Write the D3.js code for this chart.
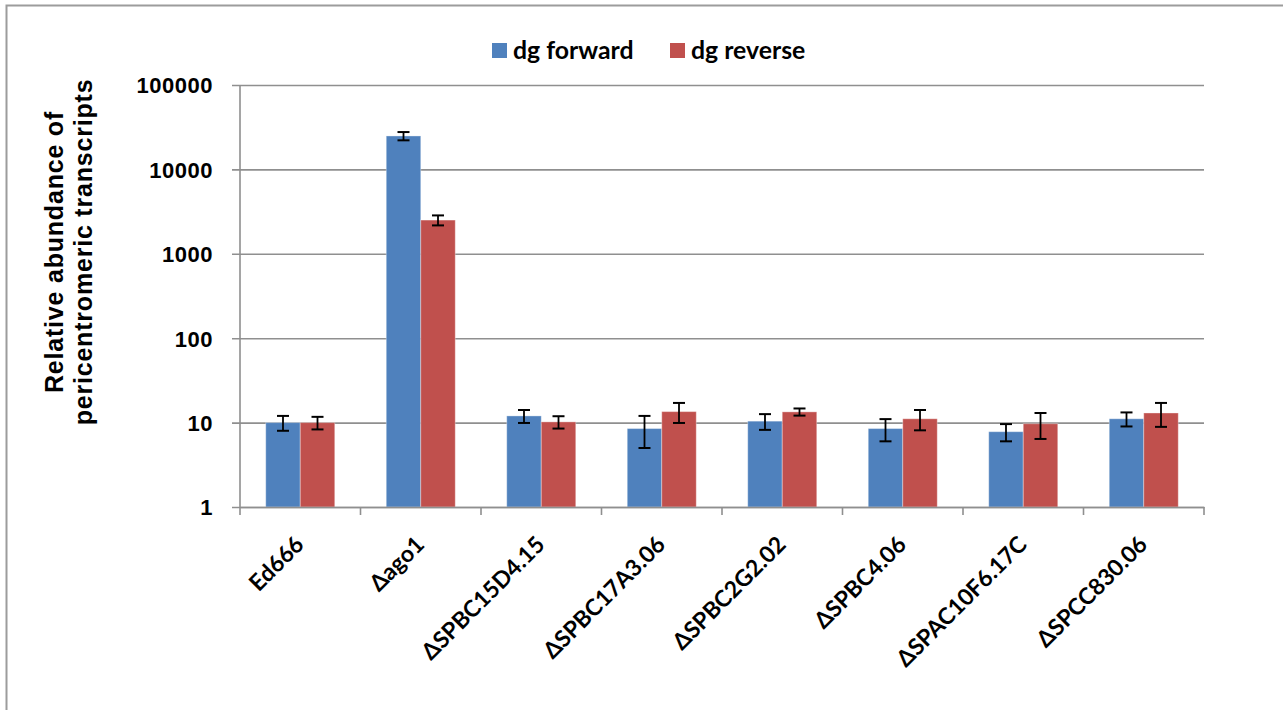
<!DOCTYPE html>
<html>
<head>
<meta charset="utf-8">
<script src="https://cdn.jsdelivr.net/npm/d3@7"></script>
<style>
  html, body { margin: 0; padding: 0; background: #fff; }
  svg { display: block; }
</style>
</head>
<body>
<svg id="chart" width="1283" height="710"></svg>
<script>
// Strains on the x axis
const categories = ["Ed666", "Δago1", "ΔSPBC15D4.15", "ΔSPBC17A3.06", "ΔSPBC2G2.02", "ΔSPBC4.06", "ΔSPAC10F6.17C", "ΔSPCC830.06"];
// Series names (legend order)
const seriesNames = ["dg forward", "dg reverse"];
// Relative abundance of pericentromeric transcripts
const forwardValues = [10.0, 24900, 12.0, 8.5, 10.4, 8.5, 7.8, 11.1];
const forwardErrors = [2.0, 2800, 2.1, 3.5, 2.2, 2.5, 1.8, 2.1];
const reverseValues = [10.0, 2510, 10.2, 13.5, 13.4, 11.1, 9.7, 13.0];
const reverseErrors = [1.7, 340, 1.7, 3.6, 1.3, 3.0, 3.3, 4.1];
// Log axis tick values
const yTicks = [1, 10, 100, 1000, 10000, 100000];

const colors = { "dg forward": "#4F81BD", "dg reverse": "#C0504D" };
const gridColor = "#8f8f8f";

const svg = d3.select("#chart");
svg.append("rect").attr("width", 1283).attr("height", 710).attr("fill", "#fff");

// outer chart frame (runs off the right and bottom edges)
svg.append("rect")
  .attr("x", 6.5).attr("y", 5.5)
  .attr("width", 1300).attr("height", 720)
  .attr("fill", "none").attr("stroke", "#9c9c9c").attr("stroke-width", 2);

const plot = { left: 240, right: 1204, top: 85, bottom: 507 };

const x = d3.scaleBand().domain(categories).range([plot.left, plot.right]).padding(0);
const xSub = d3.scaleBand().domain(seriesNames).range([0, x.bandwidth()])
  .paddingInner(0).paddingOuter(0.746);
const y = d3.scaleLog().domain([1, 100000]).range([plot.bottom, plot.top]);

// horizontal gridlines, extended left as tick marks
const yAxis = d3.axisLeft(y).tickValues(yTicks)
  .tickSize(-(plot.right - plot.left) - 8)
  .tickFormat(d3.format("d"));
const gY = svg.append("g").attr("transform", `translate(${plot.left - 8},0)`).call(yAxis);
gY.select(".domain").remove();
gY.selectAll(".tick line").attr("stroke", gridColor).attr("stroke-width", 1.6);
gY.selectAll(".tick text")
  .attr("x", -19)
  .attr("dy", "0.36em")
  .attr("font-family", "'Liberation Sans', Arial, sans-serif")
  .attr("font-weight", "bold")
  .attr("font-size", 22)
  .attr("letter-spacing", "0.5px")
  .attr("fill", "#000");

// vertical value axis line
svg.append("line")
  .attr("x1", plot.left).attr("x2", plot.left)
  .attr("y1", plot.top).attr("y2", plot.bottom)
  .attr("stroke", gridColor).attr("stroke-width", 1.6);

// bars
const rows = categories.map((c, i) => ({
  cat: c,
  items: [
    { s: "dg forward", v: forwardValues[i], e: forwardErrors[i] },
    { s: "dg reverse", v: reverseValues[i], e: reverseErrors[i] }
  ]
}));

const groups = svg.append("g").selectAll("g.grp").data(rows).join("g")
  .attr("class", "grp")
  .attr("transform", d => `translate(${x(d.cat)},0)`);

groups.selectAll("rect").data(d => d.items).join("rect")
  .attr("x", d => xSub(d.s))
  .attr("y", d => y(d.v))
  .attr("width", xSub.bandwidth())
  .attr("height", d => plot.bottom - y(d.v))
  .attr("fill", d => colors[d.s])
  .attr("stroke", "#ffffff").attr("stroke-opacity", 0.35).attr("stroke-width", 1);

// category axis along the bottom
const xAxis = d3.axisBottom(x).tickSize(0).tickFormat("");
const gX = svg.append("g").attr("transform", `translate(0,${plot.bottom})`).call(xAxis);
gX.select(".domain").attr("stroke", gridColor).attr("stroke-width", 1.6);
const boundaries = categories.map(c => x(c)).concat([plot.right]);
gX.selectAll("line.bound").data(boundaries).join("line")
  .attr("class", "bound")
  .attr("x1", d => d).attr("x2", d => d)
  .attr("y1", 0).attr("y2", 8)
  .attr("stroke", gridColor).attr("stroke-width", 1.6);

// error bars
const err = groups.selectAll("g.err").data(d => d.items).join("g").attr("class", "err")
  .attr("transform", d => `translate(${xSub(d.s) + xSub.bandwidth() / 2},0)`);
err.append("line")
  .attr("x1", 0).attr("x2", 0)
  .attr("y1", d => y(d.v + d.e)).attr("y2", d => y(d.v - d.e))
  .attr("stroke", "#000").attr("stroke-width", 1.8);
err.selectAll("line.cap").data(d => [d.v + d.e, d.v - d.e]).join("line")
  .attr("class", "cap")
  .attr("x1", -6).attr("x2", 6)
  .attr("y1", d => y(d)).attr("y2", d => y(d))
  .attr("stroke", "#000").attr("stroke-width", 2);

// rotated category labels
svg.append("g").selectAll("text").data(categories).join("text")
  .attr("transform", d => `translate(${x(d) + x.bandwidth() / 2 + 5},546) rotate(-45)`)
  .attr("text-anchor", "end")
  .attr("font-family", "Lato, 'Open Sans', sans-serif")
  .attr("font-weight", "bold")
  .attr("font-size", 23)
  .attr("fill", "#000")
  .text(d => d);

// value axis title
const title = svg.append("text")
  .attr("transform", "translate(0,252) rotate(-90)")
  .attr("text-anchor", "middle")
  .attr("font-family", "'Liberation Sans', Arial, sans-serif")
  .attr("font-weight", "bold")
  .attr("font-size", 25)
  .attr("letter-spacing", "0.8px")
  .attr("fill", "#000");
title.append("tspan").attr("x", 0).attr("y", 63).text("Relative abundance of");
title.append("tspan").attr("x", 0).attr("y", 92).text("pericentromeric transcripts");

// legend
const legendPos = [{ s: "dg forward", x: 492 }, { s: "dg reverse", x: 670 }];
const lg = svg.append("g").selectAll("g").data(legendPos).join("g")
  .attr("transform", d => `translate(${d.x},43)`);
lg.append("rect").attr("width", 15).attr("height", 15).attr("fill", d => colors[d.s]);
lg.append("text")
  .attr("x", 21).attr("y", 15.5)
  .attr("font-family", "Lato, 'Open Sans', sans-serif")
  .attr("font-weight", "bold")
  .attr("font-size", 24.8)
  .attr("fill", "#000")
  .text(d => d.s);
</script>
</body>
</html>
